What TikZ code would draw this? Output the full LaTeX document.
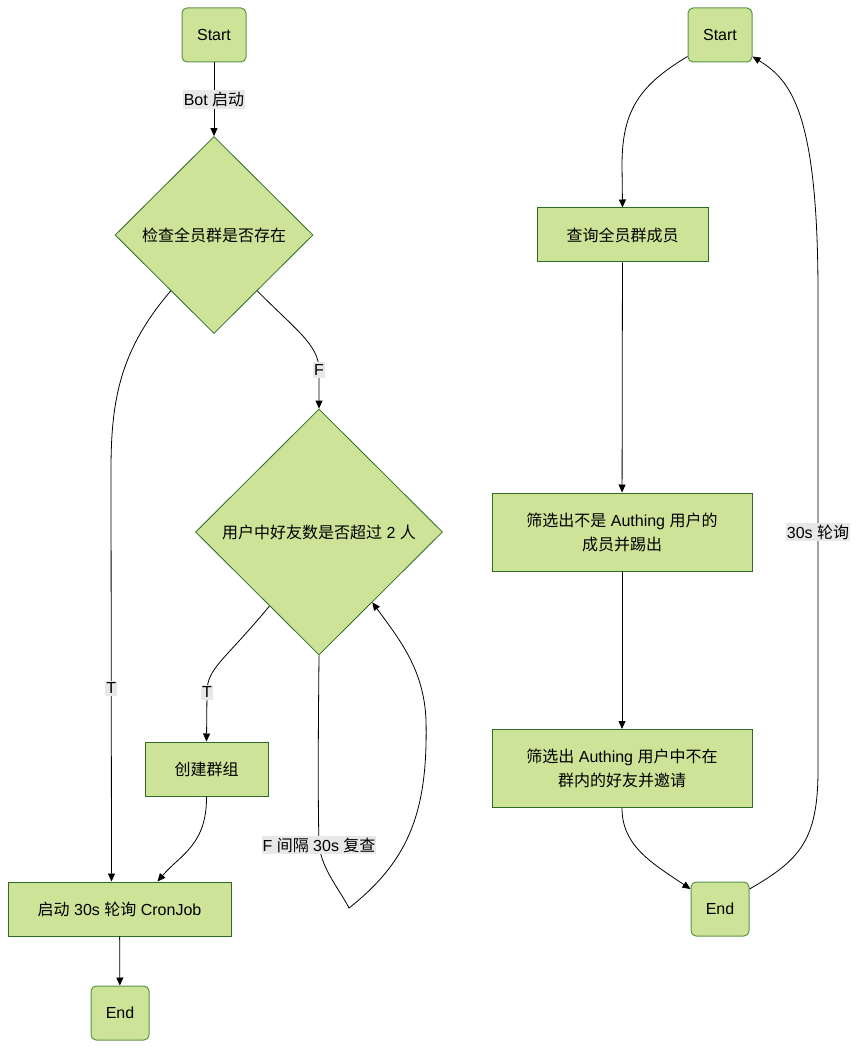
\documentclass[tikz,border=0pt]{standalone}
\usepackage{fontspec}
\setmainfont{Liberation Sans}
\newfontfamily\cjk{Noto Sans CJK SC}
\usepackage{tikz}
\usetikzlibrary{arrows.meta}
\usetikzlibrary{shapes.geometric}
\usetikzlibrary{calc}
\definecolor{boxfill}{HTML}{CDE498}
\definecolor{boxline}{HTML}{2F6B25}
\definecolor{termline}{HTML}{5B9447}
\definecolor{lblfill}{HTML}{E8E8E8}
\newcommand{\zh}[1]{{\cjk #1}}
\newcommand{\flowfont}{\fontsize{16pt}{24pt}\selectfont}

\begin{document}
\begin{tikzpicture}[x=1pt, y=-1pt,
    term/.style={draw=termline, fill=boxfill, rounded corners=5pt, line width=1pt,
        minimum width=58pt, minimum height=54pt, font=\flowfont},
    proc/.style={draw=boxline, fill=boxfill, line width=1pt, align=center,
        minimum height=54pt, font=\flowfont},
    check/.style={draw=boxline, fill=boxfill, shape=diamond, line width=0.8pt,
        inner sep=1pt, font=\flowfont},
    lbl/.style={fill=lblfill, inner xsep=1pt, inner ysep=2pt, font=\flowfont},
    arr/.style={-{Triangle[length=8pt,width=7pt]}, line width=0.8pt}]
    \useasboundingbox (0,0) rectangle (858,1048);

    % left: bot start-up
    \node[term, minimum width=64pt] (s1) at (214,35) {Start};
    \node[check, minimum width=198pt, minimum height=197pt] (d1) at (214,235) {\zh{检查全员群是否存在}};
    \node[check, minimum width=247pt, minimum height=246pt] (d2) at (319,532) {\zh{用户中好友数是否超过} 2 \zh{人}};
    \node[proc, minimum width=123pt] (grp) at (206.5,769) {\zh{创建群组}};
    \node[proc, minimum width=223pt] (cron) at (119.5,909) {\zh{启动} 30s \zh{轮询} CronJob};
    \node[term] (e1) at (120,1013) {End};

    \draw[arr] (s1) -- node[lbl] {Bot \zh{启动}} (d1);
    \draw[arr] ($(d1.south west)!0.13!(d1.south)$) .. controls (120,350) and (111,400) .. (111,470)
        -- node[lbl, pos=0.53] {T} ([xshift=-8pt]cron.north);
    \draw[arr] ($(d1.south east)!0.13!(d1.south)$) .. controls (296,330) and (319,345) .. (319,370) node[lbl] {F}
        -- (d2.north);
    \draw[arr] ($(d2.south west)!0.2!(d2.south)$) .. controls (225,660) and (207,668) .. (207,692) node[lbl] {T}
        -- (grp.north);
    \draw[arr] (d2.south) .. controls (318,760) and (318,800) .. (319,845) node[lbl] {F \zh{间隔} 30s \zh{复查}}
        .. controls (322,870) and (340,890) .. (349,908)
        .. controls (410,860) and (428,810) .. (426,720)
        .. controls (424,670) and (400,640) .. ($(d2.south east)!0.14!(d2.south)$);
    \draw[arr] (grp.south) .. controls (207,845) and (180,855) .. ([xshift=38pt]cron.north);
    \draw[arr] (cron) -- (e1);

    % right: 30s polling job
    \node[term, minimum width=64pt] (s2) at (720,35) {Start};
    \node[proc, minimum width=171pt] (q) at (622.5,235) {\zh{查询全员群成员}};
    \node[proc, minimum width=260pt, minimum height=78pt] (f1) at (622,532)
        {\zh{筛选出不是} Authing \zh{用户的}\\\zh{成员并踢出}};
    \node[proc, minimum width=260pt, minimum height=78pt] (f2) at (622,768.5)
        {\zh{筛选出} Authing \zh{用户中不在}\\\zh{群内的好友并邀请}};
    \node[term] (e2) at (720,909) {End};

    \draw[arr] ([yshift=6pt]s2.south west) .. controls (640,85) and (622,110) .. (622,165) -- (q.north);
    \draw[arr] (q) -- (f1);
    \draw[arr] (f1) -- (f2);
    \draw[arr] (f2.south) .. controls (622,845) and (650,862) .. ([yshift=20pt]e2.west);
    \draw[arr] ([yshift=20pt]e2.east) .. controls (800,860) and (818,840) .. (818,770)
        -- node[lbl] {30s \zh{轮询}} (818,294)
        .. controls (818,110) and (790,80) .. ([yshift=6pt]s2.south east);
\end{tikzpicture}
\end{document}
